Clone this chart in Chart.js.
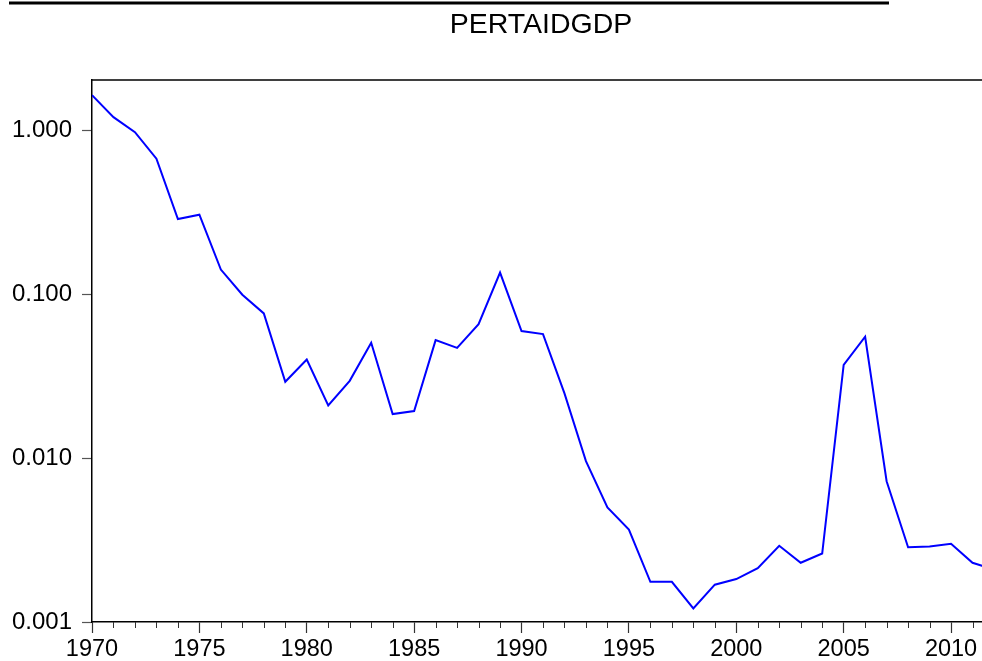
<!DOCTYPE html>
<html>
<head>
<meta charset="utf-8">
<title>PERTAIDGDP</title>
<script src="https://cdn.jsdelivr.net/npm/chart.js@4"></script>
<style>
  html, body { margin: 0; padding: 0; background: #fff; overflow: hidden; }
  #wrap { width: 1000px; height: 661px; }
</style>
</head>
<body>
<div id="wrap"><canvas id="chart" width="1000" height="661"></canvas></div>
<script>
const years = [1970, 1971, 1972, 1973, 1974, 1975, 1976, 1977, 1978, 1979,
               1980, 1981, 1982, 1983, 1984, 1985, 1986, 1987, 1988, 1989,
               1990, 1991, 1992, 1993, 1994, 1995, 1996, 1997, 1998, 1999,
               2000, 2001, 2002, 2003, 2004, 2005, 2006, 2007, 2008, 2009,
               2010, 2011, 2012];
const pertaidgdp = [1.65, 1.21, 0.98, 0.675, 0.289, 0.307, 0.142, 0.0996, 0.0766, 0.0293,
                    0.0401, 0.0210, 0.0297, 0.0507, 0.0186, 0.0194, 0.0526, 0.0472, 0.0659, 0.136,
                    0.0598, 0.0573, 0.0249, 0.0096, 0.0050, 0.00367, 0.00176, 0.00176, 0.00121, 0.00169,
                    0.00183, 0.00213, 0.00292, 0.00230, 0.00262, 0.0372, 0.0552, 0.00724, 0.00286, 0.00289,
                    0.00300, 0.00230, 0.00209];
const yTicks = [0.001, 0.01, 0.1, 1];
const seriesName = 'PERTAIDGDP';

const font = "'Liberation Sans', Arial, sans-serif";

// title, frame top, minor year ticks and the cut-off caption underline
const decorations = {
  id: 'decorations',
  afterDraw(chart) {
    const ctx = chart.ctx;
    const area = chart.chartArea;
    const x = chart.scales.x;
    ctx.save();

    ctx.strokeStyle = '#000';
    ctx.lineWidth = 3;
    ctx.beginPath();
    ctx.moveTo(9, 3);
    ctx.lineTo(889, 3);
    ctx.stroke();

    ctx.fillStyle = '#000';
    ctx.font = '28.5px ' + font;
    ctx.textAlign = 'center';
    ctx.textBaseline = 'alphabetic';
    ctx.fillText(seriesName, (area.left + area.right) / 2 - 2, 33);

    ctx.lineWidth = 1.5;
    ctx.beginPath();
    ctx.moveTo(area.left, area.top);
    ctx.lineTo(area.right, area.top);
    ctx.lineTo(area.right, area.bottom);
    ctx.stroke();

    ctx.strokeStyle = '#333';
    ctx.lineWidth = 1;
    years.forEach(yr => {
      if (yr % 5 === 0) return;
      const px = Math.round(x.getPixelForValue(yr)) + 0.5;
      ctx.beginPath();
      ctx.moveTo(px, area.bottom);
      ctx.lineTo(px, area.bottom + 6);
      ctx.stroke();
    });
    ctx.restore();
  }
};

new Chart(document.getElementById('chart'), {
  type: 'line',
  data: {
    datasets: [{
      label: seriesName,
      data: years.map((yr, i) => ({ x: yr, y: pertaidgdp[i] })),
      borderColor: '#0000ff',
      borderWidth: 2,
      pointRadius: 0,
      tension: 0,
      fill: false
    }]
  },
  options: {
    responsive: false,
    animation: false,
    devicePixelRatio: 1,
    layout: { padding: { top: 80, left: 0, right: 6, bottom: 0 } },
    plugins: {
      legend: { display: false },
      title: { display: false },
      tooltip: { enabled: false }
    },
    scales: {
      x: {
        type: 'linear',
        min: 1970,
        max: 2012,
        afterFit: s => { s.height = 39; },
        ticks: {
          stepSize: 1,
          autoSkip: false,
          maxRotation: 0,
          padding: 2,
          color: '#000',
          font: { family: font, size: 23.5 },
          callback: v => (v % 5 === 0 ? String(v) : '')
        },
        grid: {
          drawOnChartArea: false,
          tickLength: 11,
          tickWidth: 1.2,
          tickColor: c => (c.tick && c.tick.value % 5 === 0 ? '#333' : 'rgba(0,0,0,0)')
        },
        border: { color: '#000', width: 1.5 }
      },
      y: {
        type: 'logarithmic',
        min: 0.001,
        max: 2.04,
        afterFit: s => { s.width = 92; },
        afterBuildTicks: s => { s.ticks = yTicks.map(v => ({ value: v })); },
        ticks: {
          padding: 10,
          color: '#000',
          font: { family: font, size: 24 },
          callback: v => Number(v).toFixed(3)
        },
        grid: {
          drawOnChartArea: false,
          tickLength: 10,
          tickWidth: 1.2,
          tickColor: '#555'
        },
        border: { color: '#000', width: 1.5 }
      }
    }
  },
  plugins: [decorations]
});
</script>
</body>
</html>
